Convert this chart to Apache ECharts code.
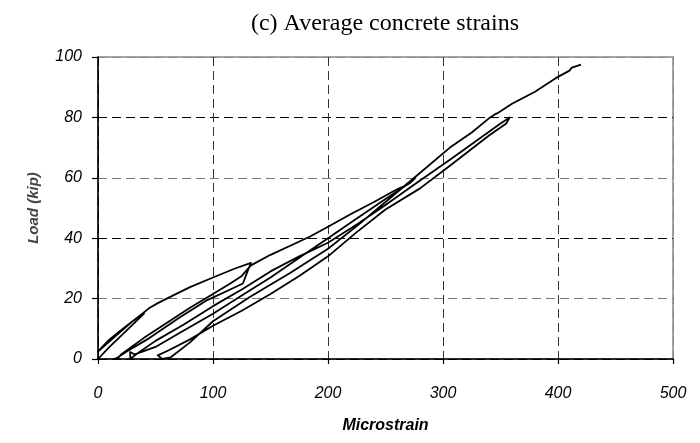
<!DOCTYPE html>
<html>
<head>
<meta charset="utf-8">
<script src="https://cdn.jsdelivr.net/npm/echarts@6/dist/echarts.min.js"></script>
<style>html,body{margin:0;padding:0;background:#fff}#c{width:700px;height:443px}</style>
</head>
<body>
<div id="c"></div>
<script>
// Average concrete strain (microstrain) vs load (kip), traced as one continuous test path
var strain = [
  0, 10, 25, 40,
  30, 15, 0,
  10, 25, 38, 45, 52, 65, 80, 100, 118, 133,
  130, 126, 115, 95, 70, 45, 25, 17, 14,
  17, 20, 40, 60, 80, 100, 115, 125, 133, 150, 170, 184, 200, 220, 240, 260, 268, 271, 276,
  272, 250, 225, 200, 175, 150, 125, 100, 75, 50, 32, 28, 28,
  33, 50, 75, 100, 125, 150, 175, 200, 225, 250, 276, 306, 330, 350, 358,
  355, 340, 306, 280, 250, 225, 200, 175, 150, 125, 100, 80, 62, 52, 56,
  63, 80, 100, 132, 167, 200, 225, 250, 275, 306, 325, 341, 345, 348, 360, 375, 380, 384, 398, 410, 412, 420
];
var load = [
  0, 4, 9.5, 15,
  12.5, 7.5, 2.5,
  6.5, 11, 14.8, 17, 18.5, 21, 23.8, 27, 29.8, 31.8,
  29, 25, 23, 19.5, 13.5, 7, 2.5, 0.5, 0,
  0, 1.5, 7, 12, 17, 21.5, 25, 27.5, 31, 34.5, 38, 40.5, 43.8, 48, 52, 56.2, 57.5, 58.2, 60,
  58.5, 53, 46.5, 40, 33.5, 27, 21, 15, 9.5, 4, 1.5, 2.3, 0,
  1.5, 6, 11.5, 17.5, 23, 29, 34, 38.5, 44.5, 51, 58, 66, 72.5, 78, 80,
  78, 74, 64, 56.5, 49.5, 42, 34, 27.5, 21.5, 16, 11, 6.5, 3, 1.2, 0,
  0.5, 5.5, 12.5, 20.5, 28.5, 36.5, 44, 52, 60, 70, 75, 80, 81, 81.5, 84.5, 87.5, 88.5, 89.5, 93, 95.5, 96.5, 97.5
];
var xTicks = [0, 100, 200, 300, 400, 500];
var yTicks = [0, 20, 40, 60, 80, 100];

var pts = strain.map(function (s, i) { return [s, load[i]]; });

var chart = echarts.init(document.getElementById('c'), null, {renderer: 'canvas'});
chart.setOption({
  animation: false,
  backgroundColor: '#fff',
  title: {
    text: '(c) Average concrete strains',
    left: 380, top: 7, textAlign: 'center',
    textStyle: {fontFamily: 'Liberation Serif', fontSize: 24, fontWeight: 'normal', color: '#000'}
  },
  grid: {left: 98, right: 27, top: 57, bottom: 84, show: true, borderColor: '#888', borderWidth: 1.5, backgroundColor: 'transparent'},
  xAxis: {
    type: 'value', min: xTicks[0], max: xTicks[xTicks.length - 1], interval: 100,
    name: 'Microstrain', nameLocation: 'middle', nameGap: 59,
    nameTextStyle: {fontFamily: 'Liberation Sans', fontSize: 16, fontWeight: 'bold', fontStyle: 'italic', color: '#000'},
    axisLine: {show: true, lineStyle: {color: '#000', width: 1.5}},
    axisTick: {show: true, inside: false, length: 5, lineStyle: {color: '#000', width: 1.2}},
    axisLabel: {margin: 27, fontFamily: 'Liberation Sans', fontSize: 16, fontStyle: 'italic', color: '#000'},
    splitLine: {show: true, lineStyle: {color: ['#000', '#333', '#333', '#333', '#333', '#888'], width: 1, type: [9, 5]}}
  },
  yAxis: {
    type: 'value', min: yTicks[0], max: yTicks[yTicks.length - 1], interval: 20,
    name: 'Load (kip)', nameLocation: 'middle', nameGap: 57,
    nameTextStyle: {fontFamily: 'Liberation Sans', fontSize: 15, fontWeight: 'bold', fontStyle: 'italic', color: '#444'},
    axisLine: {show: true, lineStyle: {color: '#000', width: 1.5}},
    axisTick: {show: true, inside: false, length: 6, lineStyle: {color: '#000', width: 1.2}},
    axisLabel: {margin: 16, fontFamily: 'Liberation Sans', fontSize: 16, fontStyle: 'italic', color: '#000'},
    splitLine: {show: true, lineStyle: {color: ['#000', '#777', '#000', '#777', '#000', '#888'], width: 1, type: [9, 5]}}
  },
  series: [{
    type: 'line', data: pts, showSymbol: false, symbol: 'none', smooth: false,
    lineStyle: {color: '#000', width: 1.8, join: 'round'}
  }]
});
</script>
</body>
</html>
